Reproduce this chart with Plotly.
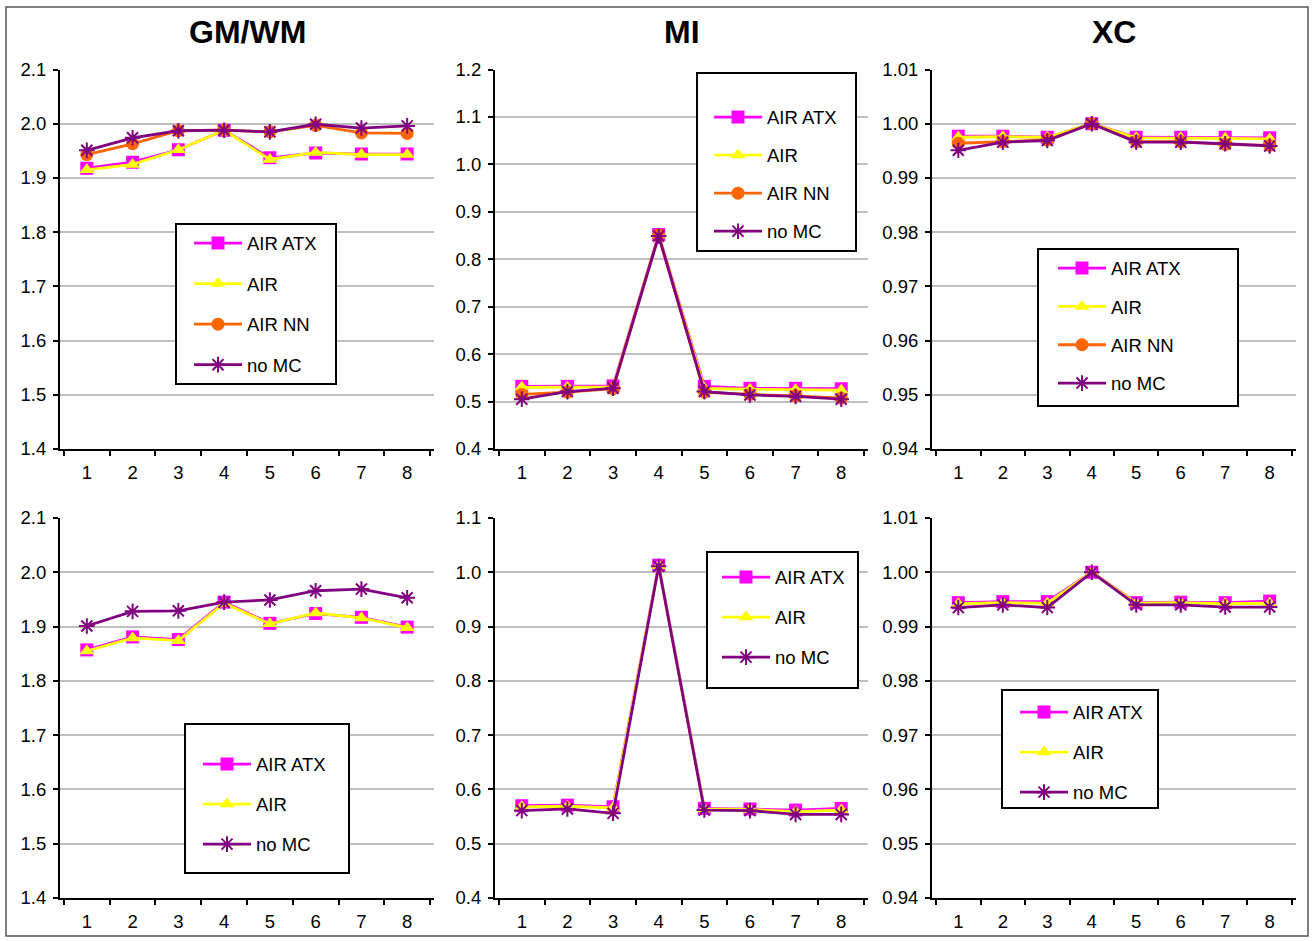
import plotly.graph_objects as go

W, H = 1314, 941

categories = ["1", "2", "3", "4", "5", "6", "7", "8"]

# GM/WM ratio
gmwm_top_atx = [1.918, 1.929, 1.952, 1.988, 1.937, 1.946, 1.944, 1.944]
gmwm_top_air = [1.915, 1.925, 1.952, 1.988, 1.934, 1.947, 1.943, 1.943]
gmwm_top_nn = [1.943, 1.963, 1.987, 1.988, 1.985, 1.997, 1.983, 1.982]
gmwm_top_nomc = [1.951, 1.974, 1.987, 1.988, 1.985, 1.999, 1.992, 1.996]
gmwm_bot_atx = [1.857, 1.881, 1.876, 1.945, 1.906, 1.924, 1.917, 1.899]
gmwm_bot_air = [1.855, 1.879, 1.874, 1.943, 1.905, 1.925, 1.916, 1.898]
gmwm_bot_nomc = [1.901, 1.928, 1.929, 1.945, 1.949, 1.966, 1.969, 1.953]

# Mutual information
mi_top_atx = [0.532, 0.532, 0.533, 0.852, 0.532, 0.528, 0.528, 0.527]
mi_top_air = [0.530, 0.530, 0.531, 0.851, 0.528, 0.526, 0.525, 0.524]
mi_top_nn = [0.515, 0.520, 0.527, 0.851, 0.520, 0.515, 0.512, 0.507]
mi_top_nomc = [0.505, 0.521, 0.528, 0.849, 0.521, 0.514, 0.511, 0.505]
mi_bot_atx = [0.570, 0.571, 0.568, 1.013, 0.565, 0.564, 0.562, 0.565]
mi_bot_air = [0.568, 0.569, 0.566, 1.012, 0.564, 0.563, 0.559, 0.562]
mi_bot_nomc = [0.561, 0.564, 0.556, 1.011, 0.562, 0.561, 0.554, 0.554]

# Cross-correlation
xc_top_atx = [0.9977, 0.9977, 0.9975, 1.0, 0.9975, 0.9975, 0.9975, 0.9974]
xc_top_air = [0.9975, 0.9976, 0.9975, 1.0, 0.9974, 0.9974, 0.9973, 0.9972]
xc_top_nn = [0.9964, 0.9967, 0.9970, 1.0, 0.9967, 0.9967, 0.9962, 0.9960]
xc_top_nomc = [0.9951, 0.9966, 0.9969, 1.0, 0.9966, 0.9966, 0.9963, 0.9959]
xc_bot_atx = [0.9944, 0.9946, 0.9946, 1.0, 0.9944, 0.9945, 0.9944, 0.9947]
xc_bot_air = [0.9942, 0.9944, 0.9943, 1.0, 0.9943, 0.9944, 0.9942, 0.9943]
xc_bot_nomc = [0.9935, 0.9940, 0.9935, 1.0, 0.9940, 0.9940, 0.9936, 0.9936]

column_titles = ["GM/WM", "MI", "XC"]

FONT = "Liberation Sans, Arial, sans-serif"
TICK_SIZE = 18.5

STYLES = {
    "AIR ATX": dict(color="#FF00FF", symbol="square", size=13, lw=2.8),
    "AIR": dict(color="#FFFF00", symbol="triangle-up", size=13, lw=2.8),
    "AIR NN": dict(color="#FF6600", symbol="circle", size=13, lw=2.8),
    "no MC": dict(color="#800080", symbol="asterisk-open", size=13, lw=2.8),
}

panels = [
    # (row, col, series, y range, dtick, tickformat)
    (0, 0, {"AIR ATX": gmwm_top_atx, "AIR": gmwm_top_air, "AIR NN": gmwm_top_nn, "no MC": gmwm_top_nomc}, (1.4, 2.1), 0.1, ".1f"),
    (0, 1, {"AIR ATX": mi_top_atx, "AIR": mi_top_air, "AIR NN": mi_top_nn, "no MC": mi_top_nomc}, (0.4, 1.2), 0.1, ".1f"),
    (0, 2, {"AIR ATX": xc_top_atx, "AIR": xc_top_air, "AIR NN": xc_top_nn, "no MC": xc_top_nomc}, (0.94, 1.01), 0.01, ".2f"),
    (1, 0, {"AIR ATX": gmwm_bot_atx, "AIR": gmwm_bot_air, "no MC": gmwm_bot_nomc}, (1.4, 2.1), 0.1, ".1f"),
    (1, 1, {"AIR ATX": mi_bot_atx, "AIR": mi_bot_air, "no MC": mi_bot_nomc}, (0.4, 1.1), 0.1, ".1f"),
    (1, 2, {"AIR ATX": xc_bot_atx, "AIR": xc_bot_air, "no MC": xc_bot_nomc}, (0.94, 1.01), 0.01, ".2f"),
]

# plot-area extents in pixels
col_px = [(60, 434), (495, 868), (932, 1296)]
row_px = [(69.5, 449), (518, 898)]

# legend boxes (x0, y0, x1, y1), first line-sample x / first row y, row pitch
legend_boxes = [
    (176, 224, 336, 384),
    (697, 73, 856, 251),
    (1038, 249, 1238, 406),
    (185, 724, 349, 873),
    (707, 552, 858, 688),
    (1002, 690, 1158, 808),
]
legend_anchor = [
    (194, 243, 40.5),
    (714, 117, 38),
    (1058, 268, 38.3),
    (203, 764, 40),
    (722, 577, 40),
    (1020, 712, 40),
]
ITEM_H = 27        # height of one legend row at this font size
FIRST_ROW = 18.5   # legend top to centre of first row


def px_x(v):
    return v / W


def px_y(v):
    return 1 - v / H


fig = go.Figure()
layout = {}
shapes = []
annotations = []

for i, (r, c, series, yr, dt, fmt) in enumerate(panels):
    n = i + 1
    xa = "x" if n == 1 else f"x{n}"
    ya = "y" if n == 1 else f"y{n}"
    lg = "legend" if n == 1 else f"legend{n}"
    for name, vals in series.items():
        st = STYLES[name]
        marker = dict(symbol=st["symbol"], size=st["size"], color=st["color"])
        if st["symbol"] == "asterisk-open":
            marker["line"] = dict(color=st["color"], width=2)
        else:
            marker["line"] = dict(width=0)
        fig.add_trace(go.Scatter(
            x=categories, y=vals, name=name, mode="lines+markers",
            line=dict(color=st["color"], width=st["lw"]),
            marker=marker, xaxis=xa, yaxis=ya, legend=lg,
            legendgroup=f"{lg}-{name}",
        ))

    x0, x1 = col_px[c]
    y0, y1 = row_px[r]
    layout[f"xaxis{'' if n == 1 else n}"] = dict(
        domain=[px_x(x0), px_x(x1)], anchor=ya, type="category",
        tickson="boundaries", ticks="outside", ticklen=5, tickwidth=2,
        tickcolor="black", showline=True, linecolor="black", linewidth=2,
        showgrid=False, zeroline=False, ticklabelstandoff=6,
        tickfont=dict(family=FONT, size=TICK_SIZE, color="black"),
    )
    layout[f"yaxis{'' if n == 1 else n}"] = dict(
        domain=[px_y(y1), px_y(y0)], anchor=xa, range=list(yr),
        dtick=dt, tick0=yr[0], tickformat=fmt, ticks="outside", ticklen=5,
        tickwidth=2, tickcolor="black", showline=True, linecolor="black",
        linewidth=2, showgrid=True, gridcolor="#BFBFBF", gridwidth=2,
        zeroline=False, ticklabelstandoff=3,
        tickfont=dict(family=FONT, size=TICK_SIZE, color="black"),
    )

    bx0, by0, bx1, by1 = legend_boxes[i]
    shapes.append(dict(type="rect", xref="paper", yref="paper",
                       x0=px_x(bx0), x1=px_x(bx1), y0=px_y(by1), y1=px_y(by0),
                       line=dict(color="black", width=2), fillcolor="white",
                       layer="above"))
    lx, ly, pitch = legend_anchor[i]
    layout[lg] = dict(
        x=px_x(lx - 5), y=px_y(ly - FIRST_ROW), xanchor="left", yanchor="top",
        bgcolor="rgba(0,0,0,0)", borderwidth=0, itemwidth=48,
        tracegroupgap=pitch - ITEM_H, traceorder="grouped",
        font=dict(family=FONT, size=TICK_SIZE, color="black"),
    )

for c, title in enumerate(column_titles):
    x0, x1 = col_px[c]
    annotations.append(dict(
        text=f"<b>{title}</b>", x=px_x((x0 + x1) / 2), y=px_y(32),
        xref="paper", yref="paper", xanchor="center", yanchor="middle",
        showarrow=False, font=dict(family=FONT, size=32, color="black"),
    ))

# outer frame around the whole figure
shapes.append(dict(type="rect", xref="paper", yref="paper",
                   x0=px_x(6), x1=px_x(1308), y0=px_y(936), y1=px_y(7),
                   line=dict(color="#555555", width=1.5), layer="below"))

fig.update_layout(
    width=W, height=H,
    margin=dict(l=0, r=0, t=0, b=0, autoexpand=False),
    paper_bgcolor="white", plot_bgcolor="white",
    showlegend=True, shapes=shapes, annotations=annotations,
    font=dict(family=FONT, color="black"),
    **layout,
)

fig.write_html("out.html")
